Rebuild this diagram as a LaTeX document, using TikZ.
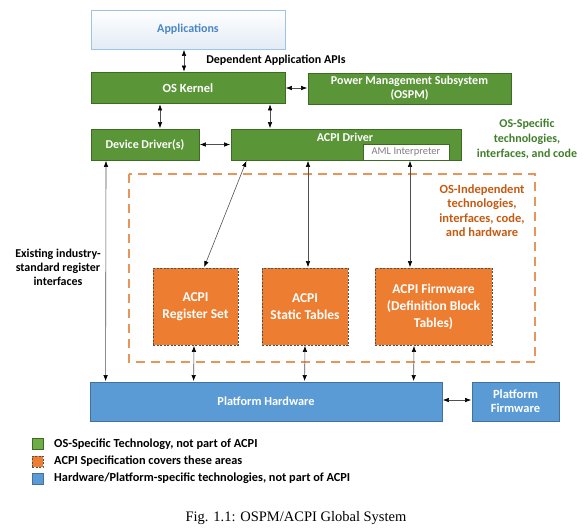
\documentclass[tikz,border=0pt]{standalone}
\usepackage{fontspec}
\setmainfont{Carlito}
\newfontfamily\capfont{Liberation Serif}
\usetikzlibrary{arrows.meta,calc}
\definecolor{grn}{HTML}{5A9537}
\definecolor{grnb}{HTML}{3D6A24}
\definecolor{orn}{HTML}{ED7D31}
\definecolor{ornd}{HTML}{E8955C}
\definecolor{ornt}{HTML}{C55A11}
\definecolor{blu}{HTML}{5B9BD5}
\definecolor{blub}{HTML}{41719C}
\definecolor{appb}{HTML}{9DC3E6}
\definecolor{appt}{HTML}{4A86C6}
\definecolor{appf}{HTML}{E3EBF5}
\definecolor{greent}{HTML}{3F7F2A}
\definecolor{arrc}{HTML}{505050}
\definecolor{lgrn}{HTML}{70AD47}
\begin{document}
\begin{tikzpicture}[x=1pt,y=-1pt,
  every node/.style={font=\bfseries\fontsize{12}{14}\selectfont, align=center, inner sep=0pt},
  gbox/.style={draw=grnb, fill=grn, line width=0.8pt, text=white},
  obox/.style={draw=arrc, fill=orn, line width=0.8pt, dash pattern=on 2pt off 1.5pt, text=white, font=\bfseries\fontsize{13.5}{17}\selectfont},
  bbox/.style={draw=blub, fill=blu, line width=0.8pt, text=white},
  arr/.style={{Latex[length=6pt,width=4.5pt,color=black]}-{Latex[length=6pt,width=4.5pt,color=black]}, draw=arrc, line width=0.6pt, shorten <=0.5pt, shorten >=0.5pt},
  sq/.style={minimum width=11pt, minimum height=11pt, line width=0.8pt}
]
\useasboundingbox (0,0) rectangle (586,531);

% dashed region
\draw[ornd, line width=1.2pt, dash pattern=on 9pt off 6pt] (129,174) rectangle (535,362);

\node[draw=appb, top color=white, bottom color=appf, line width=0.8pt, minimum width=194pt, minimum height=39pt, text=appt] (app) at (188,29.5) {Applications};
\node[gbox, minimum width=194pt, minimum height=31pt, font=\bfseries\fontsize{12.5}{14}\selectfont] (kern) at (188,88) {OS Kernel};
\node[gbox, minimum width=203pt, minimum height=31pt] (pm) at (409.5,88.5) {Power Management Subsystem\\(OSPM)};
\node[gbox, minimum width=108pt, minimum height=31pt] (dd) at (145,144.5) {Device Driver(s)};
\node[gbox, minimum width=230pt, minimum height=31pt] (acpi) at (346,144.5) {};
\node[text=white] (acpit) at (345,137) {ACPI Driver};
\node[draw=grnb, fill=white, line width=0.8pt, minimum width=86pt, minimum height=16pt, text=gray, font=\fontsize{10.5}{12}\selectfont] (aml) at (406,152) {AML Interpreter};

\node[obox, minimum width=85pt, minimum height=77pt] (reg) at (195.5,306.5) {ACPI\\Register Set};
\node[obox, minimum width=86pt, minimum height=77pt] (stat) at (305,306.5) {ACPI\\Static Tables};
\node[obox, minimum width=117pt, minimum height=77pt] (fw) at (433.5,306.5) {ACPI Firmware\\(Definition Block\\Tables)};

\node[bbox, minimum width=352pt, minimum height=39pt, font=\bfseries\fontsize{12.3}{14}\selectfont] (phw) at (266,401.5) {Platform Hardware};
\node[bbox, minimum width=87pt, minimum height=39pt, font=\bfseries\fontsize{12.5}{14}\selectfont] (pfw) at (515.5,401.5) {Platform\\Firmware};

% labels
\node (dep) at (276,60) {Dependent Application APIs};
\node[text=greent, font=\bfseries\fontsize{12}{15}\selectfont] (oss) at (527,139) {OS-Specific\\technologies,\\interfaces, and code};
\node[text=ornt, font=\bfseries\fontsize{12.5}{14.5}\selectfont] (osi) at (482,210.5) {OS-Independent\\technologies,\\interfaces, code,\\and hardware};
\node (exist) at (58,267) {Existing industry-\\standard register\\interfaces};

% connectors
\draw[arr] ($(app.south)+(-4,0)$) -- ($(kern.north)+(-4,0)$);
\draw[arr] (kern.east) -- (kern.east -| pm.west);
\draw[arr] ($(kern.south)+(-28,0)$) -- ($(dd.north)+(-28+43,0)$);
\draw[arr] ($(kern.south)+(82,0)$) -- ($(acpi.north)+(-76,0)$);
\draw[arr] (dd.east) -- (acpi.west);
\draw[arr] ($(acpi.south west)+(16,0)$) -- ($(reg.north)+(8.5,0)$);
\draw[arr] ($(acpi.south)+(-38,0)$) -- ($(stat.north)+(3,0)$);
\draw[arr] ($(acpi.south)+(64,0)$) -- ($(fw.north)+(-23.5,0)$);
\draw[arr] ($(dd.south)+(-39,0)$) -- ($(phw.north west)+(16,0)$);
\draw[arr] ($(reg.south)+(-1.5,0)$) -- ($(phw.north west)+(104,0)$);
\draw[arr] (stat.south) -- ($(phw.north west)+(215,0)$);
\draw[arr] ($(fw.south)+(-19.5,0)$) -- ($(phw.north west)+(324,0)$);
\draw[arr] ($(phw.east)+(0,-1.5)$) -- ($(pfw.west)+(0,-1.5)$);

% legend
\node[sq, draw=grnb, fill=lgrn] (l1) at (37.5,444) {};
\node[sq, draw=arrc, fill=orn, dash pattern=on 2pt off 1.5pt] (l2) at (37.5,461.5) {};
\node[sq, draw=blub, fill=blu] (l3) at (37.5,478.5) {};
\node[anchor=west, font=\bfseries\fontsize{12.3}{14}\selectfont] (t1) at (54,444) {OS-Specific Technology, not part of ACPI};
\node[anchor=west, font=\bfseries\fontsize{12.3}{14}\selectfont] (t2) at (54,461.5) {ACPI Specification covers these areas};
\node[anchor=west, font=\bfseries\fontsize{12.3}{14}\selectfont] (t3) at (54,478.5) {Hardware/Platform-specific technologies, not part of ACPI};

\node[font=\capfont\fontsize{14.5}{16}\selectfont] (cap) at (296,518) {Fig. 1.1: OSPM/ACPI Global System};
\end{tikzpicture}
\end{document}
